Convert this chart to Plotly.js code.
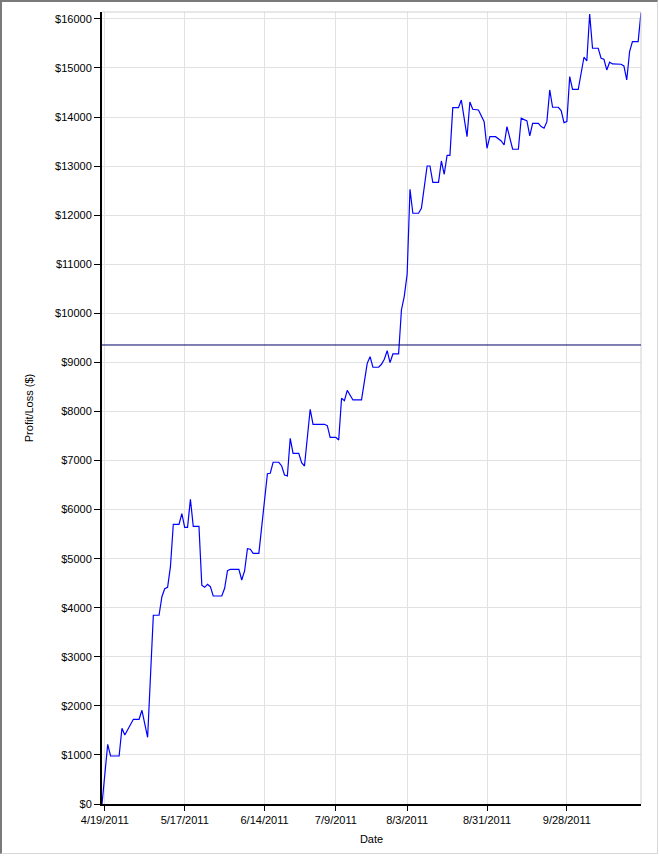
<!DOCTYPE html>
<html>
<head>
<meta charset="utf-8">
<script src="https://cdn.plot.ly/plotly-3.0.1.min.js"></script>
<style>
  html, body { margin: 0; padding: 0; background: #ffffff; }
  #wrap { position: relative; width: 659px; height: 856px; }
  #chart { width: 659px; height: 856px; }
  #frame {
    position: absolute; left: 0; top: 0; width: 655px; height: 851px;
    border-top: 2px solid #7a7a7a; border-left: 2px solid #7a7a7a;
    border-right: 1px solid #d8d8d8; border-bottom: 1px solid #d8d8d8;
    pointer-events: none;
  }
</style>
</head>
<body>
<div id="wrap">
  <div id="chart"></div>
  <div id="frame"></div>
</div>
<script>
// Dates of the profit/loss curve vertices
const dates = [
  "2011-04-18","2011-04-20","2011-04-21","2011-04-24","2011-04-25","2011-04-26","2011-04-29","2011-05-01",
  "2011-05-02","2011-05-04","2011-05-06","2011-05-08","2011-05-09","2011-05-10","2011-05-11","2011-05-12",
  "2011-05-13","2011-05-15","2011-05-16","2011-05-17","2011-05-18","2011-05-19","2011-05-20","2011-05-22",
  "2011-05-23","2011-05-24","2011-05-25","2011-05-26","2011-05-27","2011-05-30","2011-05-31","2011-06-01",
  "2011-06-02","2011-06-05","2011-06-06","2011-06-07","2011-06-08","2011-06-09","2011-06-10","2011-06-12",
  "2011-06-15","2011-06-16","2011-06-17","2011-06-19","2011-06-20","2011-06-21","2011-06-22","2011-06-23",
  "2011-06-24","2011-06-26","2011-06-27","2011-06-28","2011-06-30","2011-07-01","2011-07-05","2011-07-06",
  "2011-07-07","2011-07-09","2011-07-10","2011-07-11","2011-07-12","2011-07-13","2011-07-15","2011-07-18",
  "2011-07-20","2011-07-21","2011-07-22","2011-07-24","2011-07-25","2011-07-26","2011-07-27","2011-07-28",
  "2011-07-29","2011-07-31","2011-08-01","2011-08-02","2011-08-03","2011-08-04","2011-08-05","2011-08-07",
  "2011-08-08","2011-08-09","2011-08-10","2011-08-11","2011-08-12","2011-08-14","2011-08-15","2011-08-16",
  "2011-08-17","2011-08-18","2011-08-19","2011-08-21","2011-08-22","2011-08-24","2011-08-25","2011-08-26",
  "2011-08-28","2011-08-30","2011-08-31","2011-09-01","2011-09-03","2011-09-05","2011-09-06","2011-09-07",
  "2011-09-08","2011-09-09","2011-09-11","2011-09-12","2011-09-14","2011-09-15","2011-09-16","2011-09-18",
  "2011-09-19","2011-09-20","2011-09-21","2011-09-22","2011-09-23","2011-09-25","2011-09-26","2011-09-27",
  "2011-09-28","2011-09-29","2011-09-30","2011-10-02","2011-10-04","2011-10-05","2011-10-06","2011-10-07",
  "2011-10-09","2011-10-10","2011-10-11","2011-10-12","2011-10-13","2011-10-14","2011-10-17","2011-10-18",
  "2011-10-19","2011-10-20","2011-10-21","2011-10-23","2011-10-24"
];

// Cumulative profit/loss ($)
const profitLoss = [
  0,1216,978,978,1543,1406,1726,1726,
  1910,1359,3846,3846,4225,4388,4416,4836,
  5700,5700,5916,5639,5639,6210,5659,5659,
  4457,4416,4477,4429,4239,4239,4395,4755,
  4783,4783,4565,4749,5203,5191,5109,5109,
  6730,6740,6964,6964,6888,6705,6685,7453,
  7147,7147,6956,6888,8044,7738,7738,7710,
  7473,7473,7418,8268,8219,8430,8234,8234,
  8981,9116,8900,8900,8961,9063,9238,8994,
  9171,9171,10068,10350,10800,12527,12039,12039,
  12141,12595,13002,13002,12670,12670,13104,12833,
  13220,13220,14190,14190,14347,13599,14306,14157,
  14143,13905,13363,13599,13599,13512,13430,13804,
  13553,13343,13343,13975,13920,13614,13872,13872,
  13804,13771,13905,14551,14199,14199,14130,13885,
  13905,14823,14565,14565,15218,15143,16100,15401,
  15401,15197,15177,14959,15116,15081,15075,15040,
  14755,15332,15536,15536,16127
];

// Horizontal reference level ($)
const referenceLevel = 9354;

// X-axis tick positions and labels
const xTickVals = ["2011-04-19","2011-05-17","2011-06-14","2011-07-09","2011-08-03","2011-08-31","2011-09-28"];
const xTickText = ["4/19/2011","5/17/2011","6/14/2011","7/9/2011","8/3/2011","8/31/2011","9/28/2011"];

const FONT = "Arial, 'Liberation Sans', sans-serif";

const trace = {
  x: dates,
  y: profitLoss,
  type: "scatter",
  mode: "lines",
  line: { color: "#0000ff", width: 1.2 },
  hoverinfo: "x+y"
};

const layout = {
  width: 659,
  height: 856,
  margin: { l: 102, r: 18, t: 12, b: 52 },
  paper_bgcolor: "rgba(0,0,0,0)",
  plot_bgcolor: "#ffffff",
  showlegend: false,
  font: { family: FONT, size: 11, color: "#000000" },
  xaxis: {
    type: "date",
    range: [dates[0], dates[dates.length - 1]],
    tickvals: xTickVals,
    ticktext: xTickText,
    ticks: "outside",
    ticklen: 5,
    tickwidth: 1,
    tickcolor: "#000000",
    showline: true,
    linecolor: "#000000",
    linewidth: 2,
    showgrid: true,
    gridcolor: "#e2e2e2",
    gridwidth: 1,
    zeroline: false,
    tickfont: { family: FONT, size: 11, color: "#000000" },
    title: { text: "Date", font: { family: FONT, size: 11, color: "#000000" }, standoff: 10 }
  },
  yaxis: {
    range: [0, 16140],
    dtick: 1000,
    tick0: 0,
    tickformat: "d",
    tickprefix: "$",
    ticks: "outside",
    ticklen: 6,
    tickwidth: 1,
    tickcolor: "#000000",
    showline: true,
    linecolor: "#000000",
    linewidth: 2,
    showgrid: true,
    gridcolor: "#e2e2e2",
    gridwidth: 1,
    zeroline: false,
    tickfont: { family: FONT, size: 11, color: "#000000" },
    title: { text: "Profit/Loss ($)", font: { family: FONT, size: 11, color: "#000000" }, standoff: 19 }
  },
  shapes: [
    { type: "line", xref: "paper", yref: "paper", x0: 0, x1: 1, y0: 1, y1: 1,
      line: { color: "#d0d0d0", width: 1 } },
    { type: "line", xref: "paper", yref: "paper", x0: 1, x1: 1, y0: 0, y1: 1,
      line: { color: "#d0d0d0", width: 1 } },
    { type: "line", xref: "paper", yref: "y", x0: 0, x1: 1, y0: referenceLevel, y1: referenceLevel,
      line: { color: "#000066", width: 1 } }
  ]
};

Plotly.newPlot("chart", [trace], layout, { displayModeBar: false, staticPlot: true });
</script>
</body>
</html>
